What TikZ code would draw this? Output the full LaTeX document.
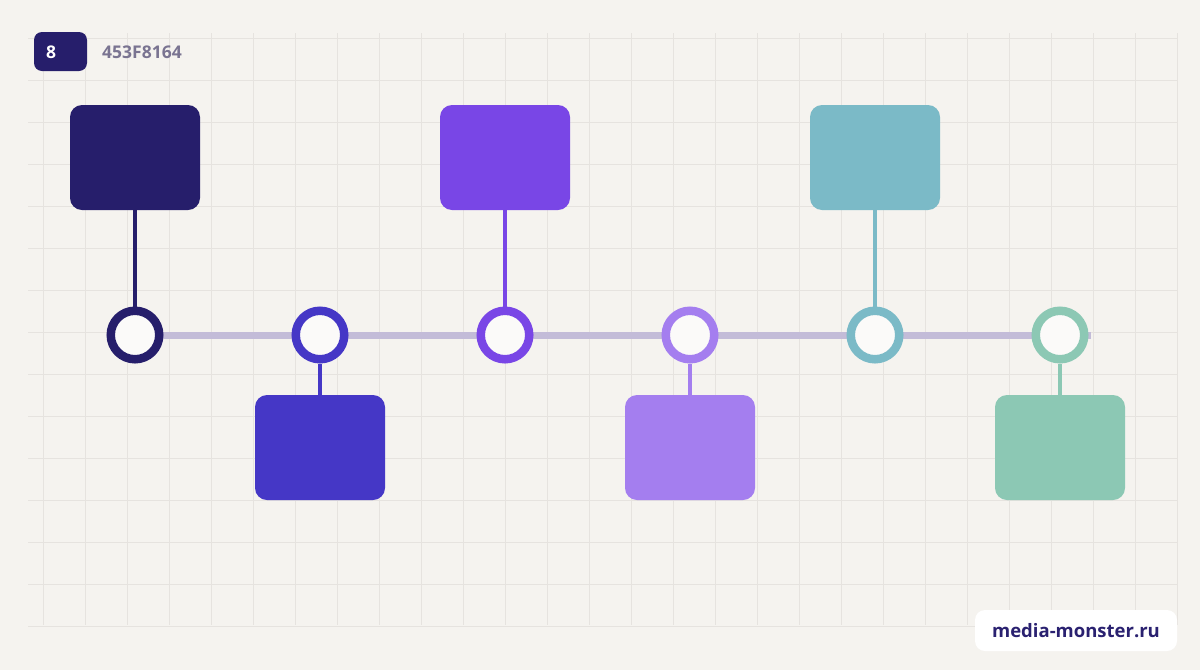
\documentclass[tikz,border=0pt]{standalone}
\usepackage{fontspec}
\setmainfont{Open Sans}
\usepackage{xcolor}
\usepackage{tikz}
\usetikzlibrary{positioning,calc}

\definecolor{paper}{HTML}{F5F3EF}
\definecolor{gridline}{HTML}{E6E3DF}
\definecolor{track}{HTML}{C3BCD8}
\definecolor{codegrey}{HTML}{7A7491}
\definecolor{sitenavy}{HTML}{2A2170}
\definecolor{cNavy}{HTML}{261E6B}
\definecolor{cBlue}{HTML}{4537C6}
\definecolor{cPurple}{HTML}{7946E6}
\definecolor{cLilac}{HTML}{A47EEF}
\definecolor{cTeal}{HTML}{7BBAC7}
\definecolor{cMint}{HTML}{8CC8B4}

\begin{document}
\begin{tikzpicture}[x=1pt, y=-1pt,
    card/.style={rounded corners=12pt, minimum width=130pt, minimum height=105pt, inner sep=0pt},
    dot/.style={circle, draw, fill=white!60!paper, line width=8.5pt, minimum size=48.5pt, inner sep=0pt},
    stem/.style={line width=4.5pt}]
    % Background and grid
    \fill[paper] (0,0) rectangle (1200,670);
    \foreach \i in {0,...,27} {
        \draw[gridline, line width=1pt] (43+42*\i,33) -- (43+42*\i,625);
    }
    \foreach \j in {0,...,14} {
        \draw[gridline, line width=1pt] (28,38+42*\j) -- (1177,38+42*\j);
    }

    % Header
    \node[fill=cNavy, rounded corners=8pt, minimum width=53pt, minimum height=39pt] (tag) at (60.5,51.5) {};
    \node[text=white, font=\bfseries\fontsize{17.5}{19}\selectfont] (tagnum) at (51,52.5) {8};
    \node[anchor=west, text=codegrey, font=\bfseries\fontsize{17.5}{19}\selectfont, inner sep=0pt] (code) at (102,52.5) {453F8164};

    % Timeline track
    \foreach \n/\x in {1/135,2/320,3/505,4/690,5/875,6/1060} {
        \coordinate (p\n) at (\x,335);
    }
    \coordinate (trackend) at (1091,335);
    \draw[track, line width=7pt] (p1) -- (trackend);

    % Milestones (odd above, even below)
    \foreach \n/\col in {1/cNavy,3/cPurple,5/cTeal} {
        \node[dot, draw=\col] (dot\n) at (p\n) {};
        \node[card, fill=\col] (card\n) at ($(p\n)+(0,-177.5)$) {};
        \draw[stem, \col] (card\n.south) -- (dot\n.north);
    }
    \foreach \n/\col in {2/cBlue,4/cLilac,6/cMint} {
        \node[dot, draw=\col] (dot\n) at (p\n) {};
        \node[card, fill=\col] (card\n) at ($(p\n)+(0,112.5)$) {};
        \draw[stem, \col] (dot\n.south) -- (card\n.north);
    }

    % Site label
    \node[fill=white, rounded corners=10pt, minimum width=202pt, minimum height=41pt,
          text=sitenavy, font=\bfseries\fontsize{18.5}{20}\selectfont] (site) at (1076,630.5) {media-monster.ru};
\end{tikzpicture}
\end{document}
